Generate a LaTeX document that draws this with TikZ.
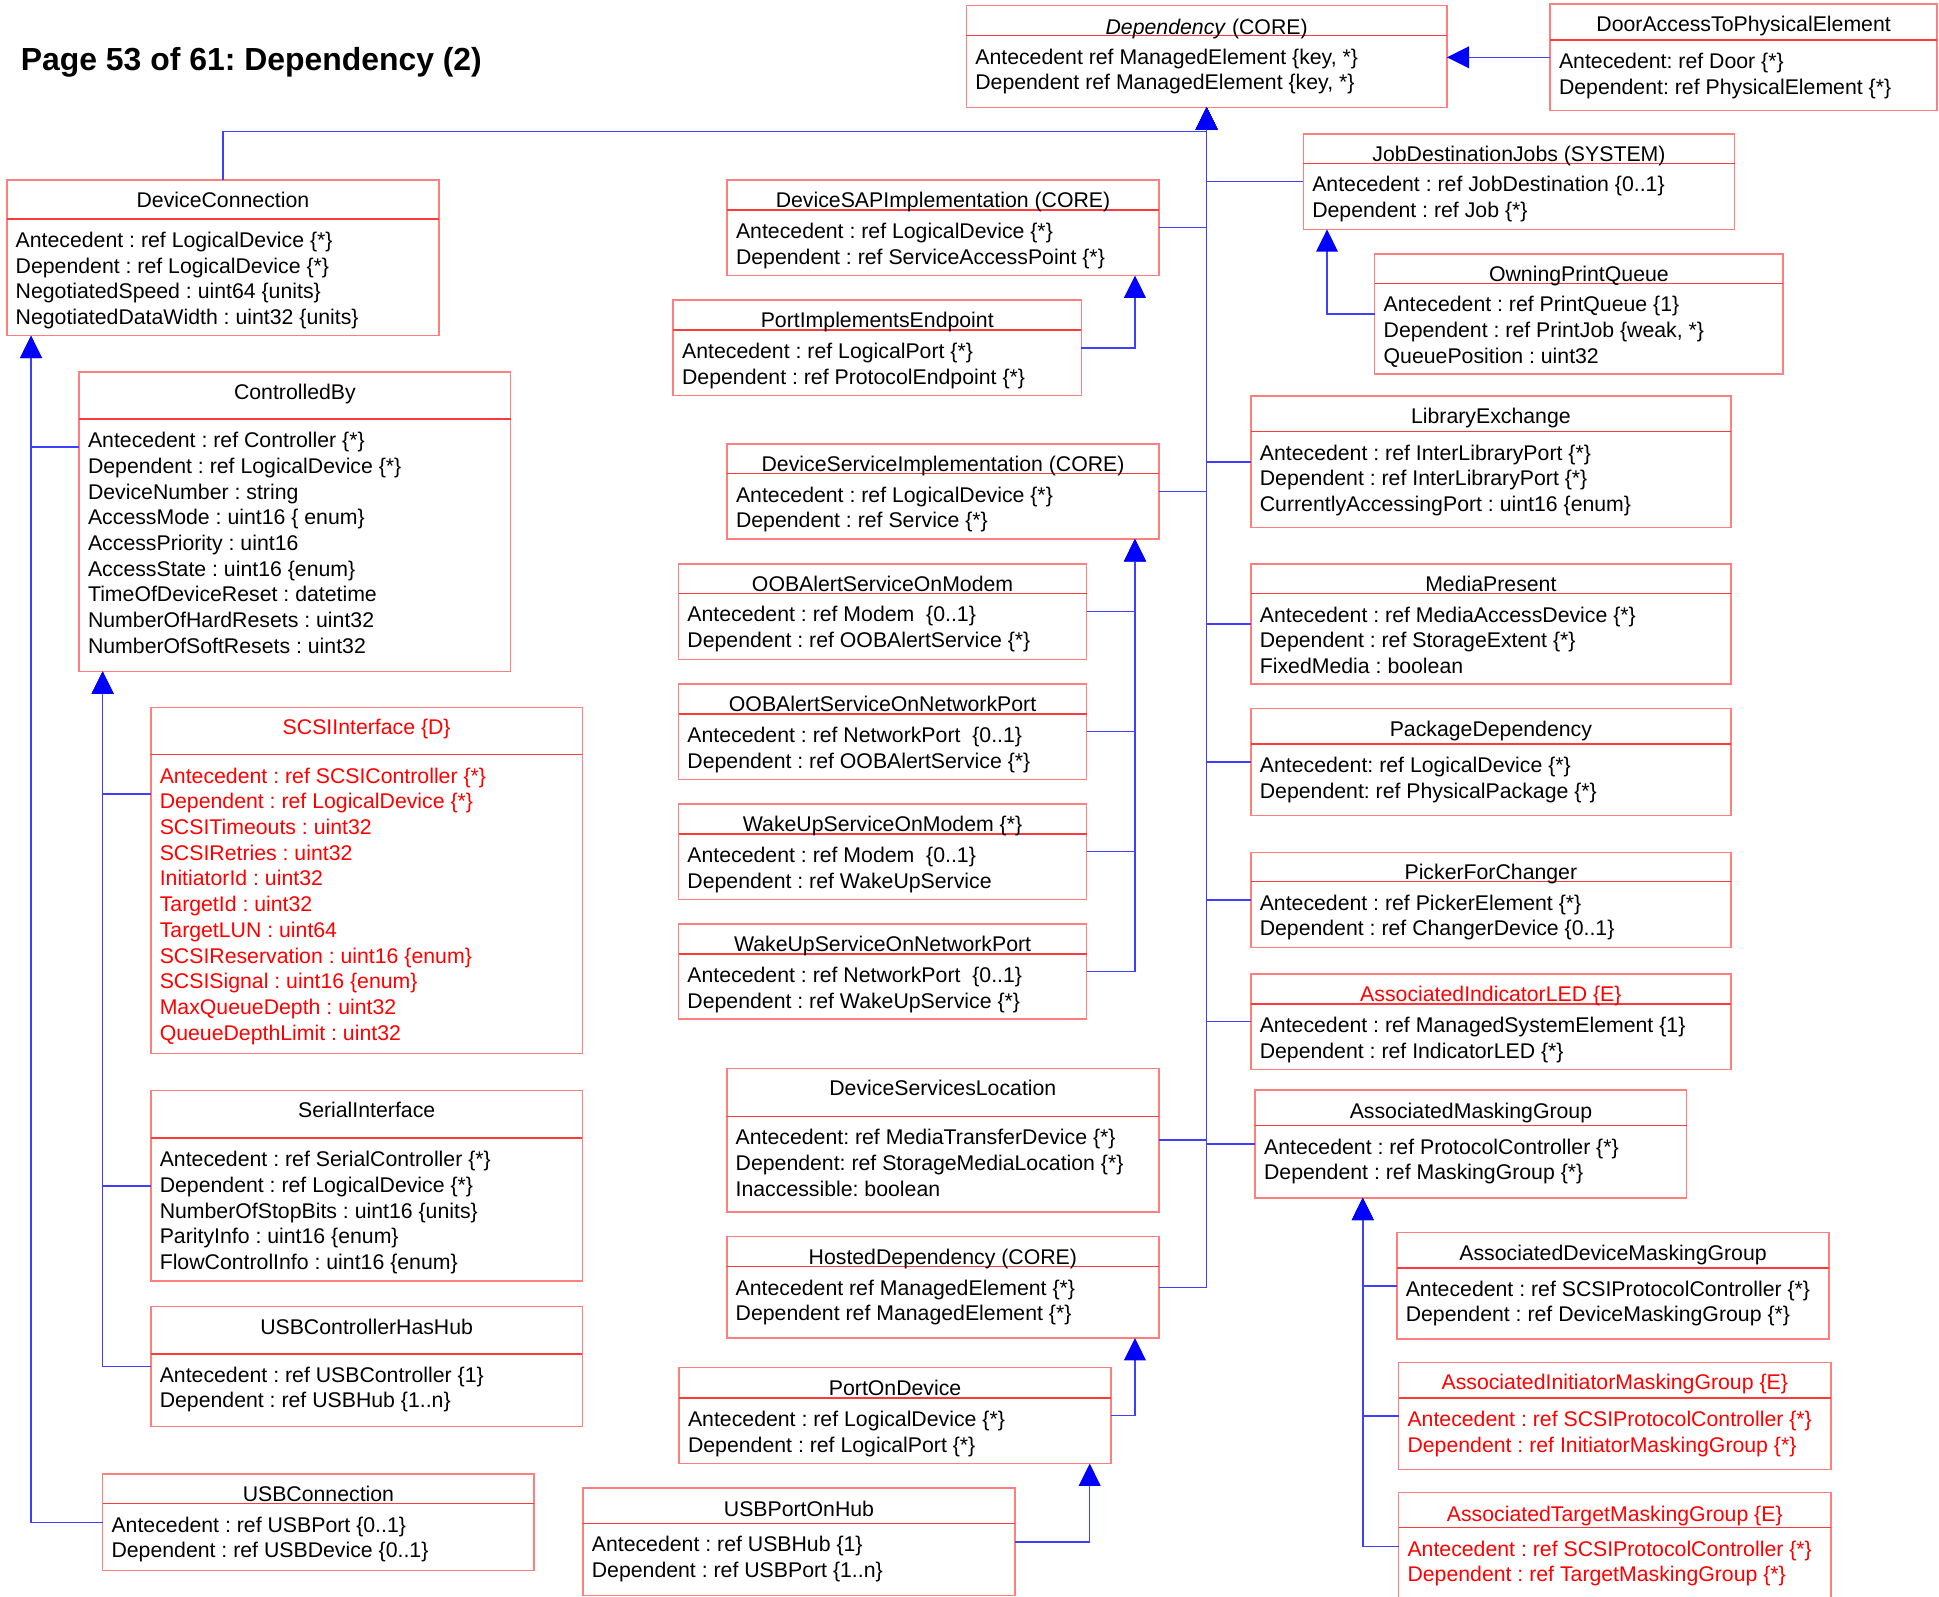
\documentclass[tikz,border=0pt]{standalone}
\usepackage{fontspec}
\setmainfont{Liberation Sans}
\usetikzlibrary{arrows.meta,calc}
\frenchspacing

\definecolor{boxedge}{HTML}{FF7F7F}
\definecolor{boxrule}{HTML}{FF3A3A}
\definecolor{assocblue}{HTML}{3F3FFF}
\definecolor{ewarn}{HTML}{FF0000}

\tikzset{
  cimframe/.style={draw=boxedge, line width=0.6pt, rectangle, inner sep=0pt, outer sep=0pt, anchor=north west},
  cimrule/.style={draw=boxrule, line width=0.6pt},
  cimtitle/.style={anchor=base, inner sep=0pt, font=\fontsize{8.6}{10.4}\selectfont\frenchspacing},
  cimattrs/.style={anchor=north west, inner sep=0pt, align=left, font=\fontsize{8.6}{10.4}\selectfont\frenchspacing},
  assoc/.style={draw=assocblue, line width=0.6pt, -{Triangle[width=8.75pt,length=9pt,color=blue]}},
  heading/.style={anchor=base west, inner sep=0pt, font=\fontsize{12.9}{15}\selectfont\bfseries\frenchspacing}
}

% name, left, top, width, height, rule offset, title offset, title, attributes
\newcommand{\cimbox}[9]{%
  \node[cimframe, minimum width=#4*0.5pt, minimum height=#5*0.5pt] (#1) at (#2,#3) {};
  \draw[cimrule] ($(#1.north west)+(0,#6)$) -- ($(#1.north east)+(0,#6)$);
  \node[cimtitle] at ($(#1.north)+(0,#7+6.3)$) {#8};
  \node[cimattrs] at ($(#1.north west)+(6.8,#6+8)$) {\strut#9};
}

\begin{document}
\begin{tikzpicture}[x=0.5pt, y=-0.5pt]
  \clip (0,0) rectangle (1568,1291);

  \node[heading] (pagetitle) at (16.5,57) {Page 53 of 61: Dependency (2)};

  % Top
  \cimbox{dep}{781.5}{4.5}{388.5}{82.3}{24.3}{17}{\textit{Dependency} (CORE)}{Antecedent ref ManagedElement \{key, *\}\\Dependent ref ManagedElement \{key, *\}}
  \cimbox{door}{1253.5}{3.2}{313}{86.3}{29.1}{16.2}{DoorAccessToPhysicalElement}{Antecedent: ref Door \{*\}\\Dependent: ref PhysicalElement \{*\}}

  % Left column
  \cimbox{devconn}{5.5}{145.5}{349.5}{126}{31.5}{16.2}{DeviceConnection}{Antecedent : ref LogicalDevice \{*\}\\Dependent : ref LogicalDevice \{*\}\\NegotiatedSpeed : uint64 \{units\}\\NegotiatedDataWidth : uint32 \{units\}}
  \cimbox{ctrl}{64}{301}{349}{242}{38}{15.7}{ControlledBy}{Antecedent : ref Controller \{*\}\\Dependent : ref LogicalDevice \{*\}\\DeviceNumber : string\\AccessMode : uint16 \{ enum\}\\AccessPriority : uint16\\AccessState : uint16 \{enum\}\\TimeOfDeviceReset : datetime\\NumberOfHardResets : uint32\\NumberOfSoftResets : uint32}
  \begin{scope}[every node/.append style={text=ewarn}]
    \cimbox{scsi}{122}{572}{349}{280}{38.3}{16}{SCSIInterface \{D\}}{Antecedent : ref SCSIController \{*\}\\Dependent : ref LogicalDevice \{*\}\\SCSITimeouts : uint32\\SCSIRetries : uint32\\InitiatorId : uint32\\TargetId : uint32\\TargetLUN : uint64\\SCSIReservation : uint16 \{enum\}\\SCSISignal : uint16 \{enum\}\\MaxQueueDepth : uint32\\QueueDepthLimit : uint32}
  \end{scope}
  \cimbox{serial}{122}{882}{349}{154}{38.4}{15.7}{SerialInterface}{Antecedent : ref SerialController \{*\}\\Dependent : ref LogicalDevice \{*\}\\NumberOfStopBits : uint16 \{units\}\\ParityInfo : uint16 \{enum\}\\FlowControlInfo : uint16 \{enum\}}
  \cimbox{usbhub}{122}{1056.5}{349}{97}{38.3}{16}{USBControllerHasHub}{Antecedent : ref USBController \{1\}\\Dependent : ref USBHub \{1..n\}}
  \cimbox{usbconn}{83}{1192}{349}{78}{24}{16}{USBConnection}{Antecedent : ref USBPort \{0..1\}\\Dependent : ref USBDevice \{0..1\}}

  % Middle column
  \cimbox{sap}{588}{145.5}{349.2}{77.3}{24.3}{16.2}{DeviceSAPImplementation (CORE)}{Antecedent : ref LogicalDevice \{*\}\\Dependent : ref ServiceAccessPoint \{*\}}
  \cimbox{portimpl}{544.4}{242.5}{330}{77.5}{24.4}{16.3}{PortImplementsEndpoint}{Antecedent : ref LogicalPort \{*\}\\Dependent : ref ProtocolEndpoint \{*\}}
  \cimbox{dsi}{588}{359}{349.2}{77}{24}{16.2}{DeviceServiceImplementation (CORE)}{Antecedent : ref LogicalDevice \{*\}\\Dependent : ref Service \{*\}}
  \cimbox{oobm}{548.7}{456}{330}{77.2}{24}{15.7}{OOBAlertServiceOnModem}{Antecedent : ref Modem\ \ \{0..1\}\\Dependent : ref OOBAlertService \{*\}}
  \cimbox{oobn}{548.7}{553.2}{330}{77}{24.2}{15.7}{OOBAlertServiceOnNetworkPort}{Antecedent : ref NetworkPort\ \ \{0..1\}\\Dependent : ref OOBAlertService \{*\}}
  \cimbox{wum}{548.7}{650.2}{330}{77}{24.2}{15.7}{WakeUpServiceOnModem \{*\}}{Antecedent : ref Modem\ \ \{0..1\}\\Dependent : ref WakeUpService}
  \cimbox{wun}{548.7}{747.2}{330}{77}{24.2}{15.7}{WakeUpServiceOnNetworkPort}{Antecedent : ref NetworkPort\ \ \{0..1\}\\Dependent : ref WakeUpService \{*\}}
  \cimbox{dsl}{587.7}{864}{349.5}{116}{38.7}{15.7}{DeviceServicesLocation}{Antecedent: ref MediaTransferDevice \{*\}\\Dependent: ref StorageMediaLocation \{*\}\\Inaccessible: boolean}
  \cimbox{hosted}{587.7}{1000}{349.5}{82}{24.3}{16}{HostedDependency (CORE)}{Antecedent ref ManagedElement \{*\}\\Dependent ref ManagedElement \{*\}}
  \cimbox{portdev}{549.2}{1106}{349.3}{77.5}{24.5}{16.5}{PortOnDevice}{Antecedent : ref LogicalDevice \{*\}\\Dependent : ref LogicalPort \{*\}}
  \cimbox{usbport}{471.4}{1203.3}{349.4}{87}{28.5}{16.4}{USBPortOnHub}{Antecedent : ref USBHub \{1\}\\Dependent : ref USBPort \{1..n\}}

  % Right column
  \cimbox{jobdest}{1054}{108.4}{348.7}{77.1}{23.7}{15.6}{JobDestinationJobs (SYSTEM)}{Antecedent : ref JobDestination \{0..1\}\\Dependent : ref Job \{*\}}
  \cimbox{opq}{1111.7}{205.4}{330.2}{97}{23.7}{15.6}{OwningPrintQueue}{Antecedent : ref PrintQueue \{1\}\\Dependent : ref PrintJob \{weak, *\}\\QueuePosition : uint32}
  \cimbox{libx}{1011.6}{320.3}{388}{106.2}{28.8}{16.1}{LibraryExchange}{Antecedent : ref InterLibraryPort \{*\}\\Dependent : ref InterLibraryPort \{*\}\\CurrentlyAccessingPort : uint16 \{enum\}}
  \cimbox{media}{1011.6}{456.1}{388}{97}{24}{15.6}{MediaPresent}{Antecedent : ref MediaAccessDevice \{*\}\\Dependent : ref StorageExtent \{*\}\\FixedMedia : boolean}
  \cimbox{pkg}{1011.6}{572.8}{388}{86.8}{28.9}{16.2}{PackageDependency}{Antecedent: ref LogicalDevice \{*\}\\Dependent: ref PhysicalPackage \{*\}}
  \cimbox{picker}{1011.5}{689.2}{388.2}{77.2}{23.8}{15.8}{PickerForChanger}{Antecedent : ref PickerElement \{*\}\\Dependent : ref ChangerDevice \{0..1\}}
  \cimbox{led}{1011.5}{787.5}{388.2}{77.3}{24.5}{16.2}{{\color{ewarn}AssociatedIndicatorLED \{E\}}}{Antecedent : ref ManagedSystemElement \{1\}\\Dependent : ref IndicatorLED \{*\}}
  \cimbox{mask}{1015}{881.6}{349}{87}{28.7}{16.2}{AssociatedMaskingGroup}{Antecedent : ref ProtocolController \{*\}\\Dependent : ref MaskingGroup \{*\}}
  \cimbox{adm}{1129.6}{996.8}{349.6}{86}{28.4}{15.8}{AssociatedDeviceMaskingGroup}{Antecedent : ref SCSIProtocolController \{*\}\\Dependent : ref DeviceMaskingGroup \{*\}}
  \begin{scope}[every node/.append style={text=ewarn}]
    \cimbox{aim}{1131}{1101.7}{349.6}{86.5}{28.8}{15.9}{AssociatedInitiatorMaskingGroup \{E\}}{Antecedent : ref SCSIProtocolController \{*\}\\Dependent : ref InitiatorMaskingGroup \{*\}}
    \cimbox{atm}{1131}{1206.8}{349.6}{87.5}{28.6}{17}{AssociatedTargetMaskingGroup \{E\}}{Antecedent : ref SCSIProtocolController \{*\}\\Dependent : ref TargetMaskingGroup \{*\}}
  \end{scope}

  % Associations into Dependency
  \draw[assoc] (door.west) -- (door.west -| dep.east);
  \coordinate (topbus) at ($(dep.south)+(0,19.6)$);
  \draw[assoc] (devconn.north) |- (topbus) -- (dep.south);
  \draw[assoc] (sap.east) -| (dep.south);
  \draw[assoc] (dsi.east) -| (dep.south);
  \draw[assoc] (dsl.east) -| (dep.south);
  \draw[assoc] (hosted.east) -| (dep.south);
  \draw[assoc] (jobdest.west) -| (dep.south);
  \draw[assoc] (libx.west) -| (dep.south);
  \draw[assoc] (media.west) -| (dep.south);
  \draw[assoc] (pkg.west) -| (dep.south);
  \draw[assoc] (picker.west) -| (dep.south);
  \draw[assoc] (led.west) -| (dep.south);
  \draw[assoc] (mask.west) -| (dep.south);

  % Left buses
  \coordinate (dcfoot) at ($(devconn.south west)+(19.6,0)$);
  \draw[assoc] ($(ctrl.north west)!0.25!(ctrl.south west)$) -| (dcfoot);
  \draw[assoc] (usbconn.west) -| (dcfoot);
  \coordinate (cbfoot) at ($(ctrl.south west)+(19,0)$);
  \draw[assoc] ($(scsi.north west)!0.25!(scsi.south west)$) -| (cbfoot);
  \draw[assoc] (serial.west) -| (cbfoot);
  \draw[assoc] (usbhub.west) -| (cbfoot);

  % Middle buses
  \coordinate (sapfoot) at ($(sap.south east)+(-19.4,0)$);
  \draw[assoc] (portimpl.east) -| (sapfoot);
  \coordinate (dsifoot) at ($(dsi.south east)+(-19.4,0)$);
  \draw[assoc] (oobm.east) -| (dsifoot);
  \draw[assoc] (oobn.east) -| (dsifoot);
  \draw[assoc] (wum.east) -| (dsifoot);
  \draw[assoc] (wun.east) -| (dsifoot);
  \coordinate (hostfoot) at ($(hosted.south east)+(-19.4,0)$);
  \draw[assoc] (portdev.east) -| (hostfoot);
  \coordinate (pdfoot) at ($(portdev.south east)+(-17.3,0)$);
  \draw[assoc] (usbport.east) -| (pdfoot);

  % Right buses
  \coordinate (jdfoot) at ($(jobdest.south west)+(19.1,0)$);
  \draw[assoc] (opq.west) -| (jdfoot);
  \coordinate (amfoot) at ($(mask.south west)+(87,0)$);
  \draw[assoc] (adm.west) -| (amfoot);
  \draw[assoc] (aim.west) -| (amfoot);
  \draw[assoc] (atm.west) -| (amfoot);
\end{tikzpicture}
\end{document}
